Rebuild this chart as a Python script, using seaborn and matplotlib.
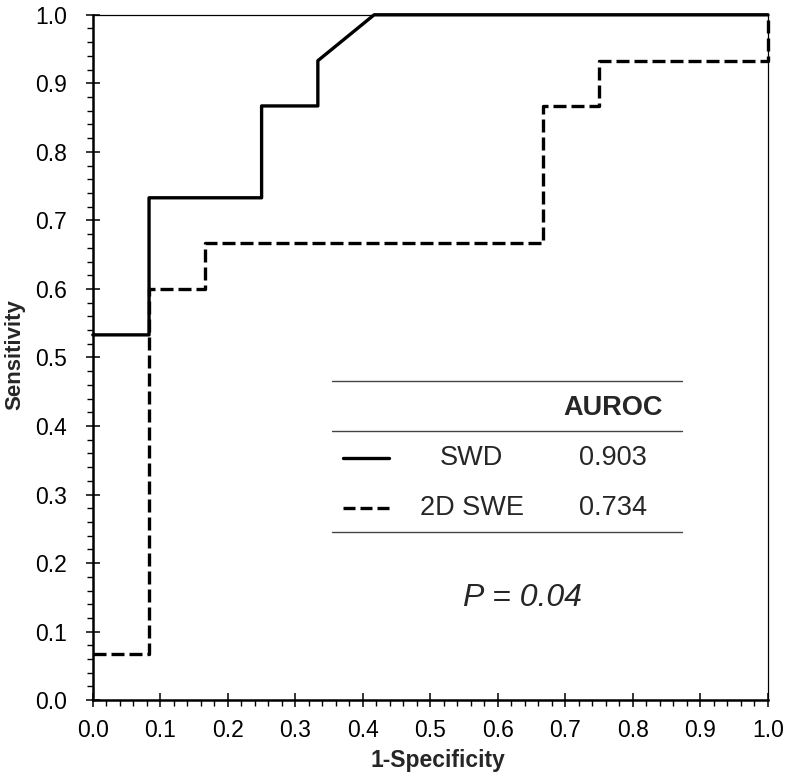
import numpy as np
import pandas as pd
import matplotlib
matplotlib.use('Agg')
import matplotlib.pyplot as plt
import seaborn as sns
from matplotlib.ticker import MultipleLocator

# ROC curve points
swd_fpr = [0.0, 0.0833, 0.0833, 0.25, 0.25, 0.3333, 0.3333, 0.4167, 1.0]
swd_tpr = [0.533, 0.533, 0.733, 0.733, 0.867, 0.867, 0.933, 1.0, 1.0]

swe_fpr = [0.0, 0.0833, 0.0833, 0.1667, 0.1667, 0.6667, 0.6667, 0.75, 0.75, 1.0, 1.0]
swe_tpr = [0.067, 0.067, 0.6, 0.6, 0.667, 0.667, 0.867, 0.867, 0.933, 0.933, 1.0]

methods = ['SWD', '2D SWE']
auroc = ['0.903', '0.734']
p_text = 'P = 0.04'

x_ticks = np.round(np.arange(0, 1.01, 0.1), 1)
y_ticks = np.round(np.arange(0, 1.01, 0.1), 1)

sns.set_style('white')
plt.rcParams['font.family'] = ['Liberation Sans', 'DejaVu Sans']

fig = plt.figure(figsize=(8, 7.78), dpi=100)
ax = fig.add_axes([0.116, 0.100, 0.844, 0.881])

df_swd = pd.DataFrame({'fpr': swd_fpr, 'tpr': swd_tpr})
df_swe = pd.DataFrame({'fpr': swe_fpr, 'tpr': swe_tpr})

dash = (0, (3.9, 1.5))
sns.lineplot(data=df_swd, x='fpr', y='tpr', sort=False, estimator=None,
             color='black', linewidth=2.4, ax=ax, clip_on=False)
sns.lineplot(data=df_swe, x='fpr', y='tpr', sort=False, estimator=None,
             color='black', linewidth=2.4, ax=ax, clip_on=False,
             dashes=False, linestyle=dash)

ax.set_xlim(0, 1)
ax.set_ylim(0, 1)
ax.set_xticks(x_ticks)
ax.set_yticks(y_ticks)
ax.xaxis.set_minor_locator(MultipleLocator(0.02))
ax.yaxis.set_minor_locator(MultipleLocator(0.02))
ax.set_xticklabels([f'{v:.1f}' for v in x_ticks], fontsize=16.5)
ax.set_yticklabels([f'{v:.1f}' for v in y_ticks], fontsize=16.5)
ax.tick_params(which='major', direction='inout', length=9.4, width=1.1,
               colors='black', bottom=True, left=True)
ax.tick_params(axis='x', which='major', pad=9)
ax.tick_params(axis='y', which='major', pad=14)
ax.tick_params(which='minor', direction='out', length=4.3, width=1.0,
               colors='black', bottom=True, left=True)

for side in ['left', 'bottom']:
    ax.spines[side].set_linewidth(1.8)
    ax.spines[side].set_color('black')
for side in ['top', 'right']:
    ax.spines[side].set_linewidth(0.9)
    ax.spines[side].set_color('black')

ax.set_xlabel('1-Specificity', fontsize=16.5, fontweight='bold')
ax.set_ylabel('Sensitivity', fontsize=16, fontweight='bold')
ax.xaxis.set_label_coords(0.511, -0.0876)
ax.yaxis.set_label_coords(-0.1156, 0.504)
ax.xaxis.label.set_va('center')
ax.yaxis.label.set_va('center')

# table-like legend inside the axes
for yy in [0.466, 0.393, 0.245]:
    ax.plot([0.354, 0.873], [yy, yy], color='#444444', linewidth=1.0)
ax.text(0.770, 0.426, 'AUROC', fontsize=19.5, fontweight='bold',
        ha='center', va='center')
row_y = [0.353, 0.280]
styles = ['-', (0, (3.6, 1.5))]
for name, val, yy, ls in zip(methods, auroc, row_y, styles):
    ax.plot([0.370, 0.439], [yy, yy], color='black', linewidth=2.4, linestyle=ls)
    ax.text(0.561, yy, name, fontsize=19.5, ha='center', va='center')
    ax.text(0.770, yy, val, fontsize=19.5, ha='center', va='center')

ax.text(0.637, 0.149, p_text, fontsize=23, style='italic',
        ha='center', va='center')

fig.savefig('out.png', dpi=100)
